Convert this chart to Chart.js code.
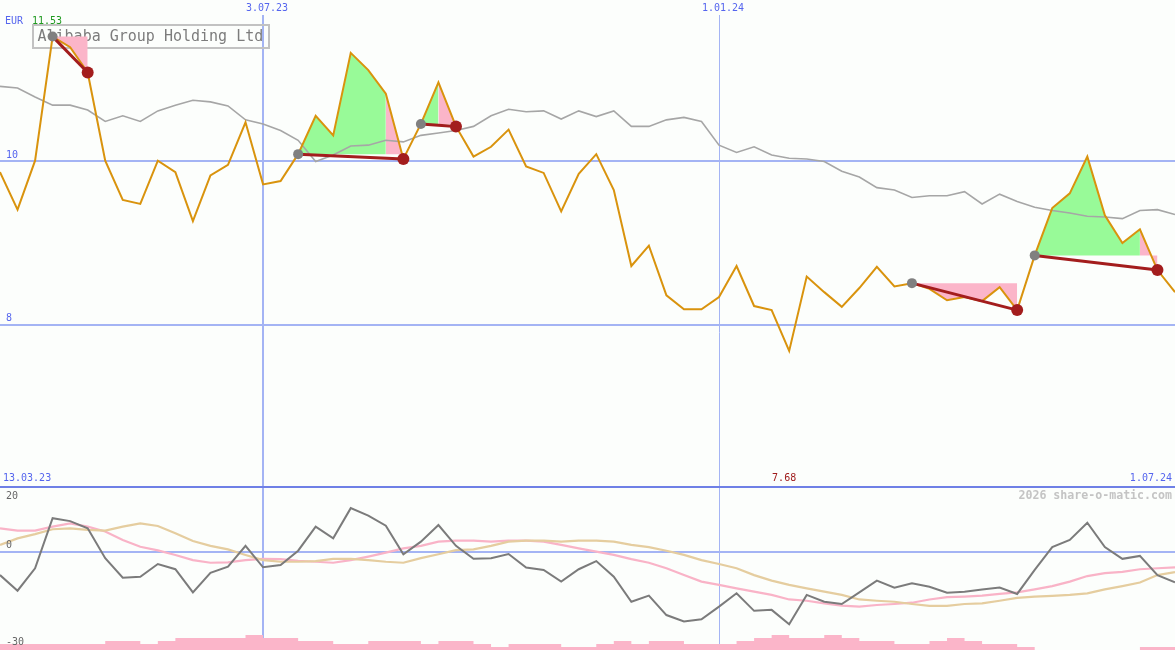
<!DOCTYPE html>
<html>
<head>
<meta charset="utf-8">
<title>Alibaba Group Holding Ltd</title>
<script src="https://cdn.jsdelivr.net/npm/chart.js@4.4.1/dist/chart.umd.min.js"></script>
<style>
  body { margin: 0; background: #fcfefc; }
  #box { position: relative; width: 1175px; height: 650px; }
</style>
</head>
<body>
<div id="box"><canvas id="chart"></canvas></div>
<script>
// weekly closes, EUR
var weeks = ['20.03.23', '27.03.23', '3.04.23', '10.04.23', '17.04.23', '24.04.23', '1.05.23', '8.05.23',
  '15.05.23', '22.05.23', '29.05.23', '5.06.23', '12.06.23', '19.06.23', '26.06.23', '3.07.23',
  '10.07.23', '17.07.23', '24.07.23', '31.07.23', '7.08.23', '14.08.23', '21.08.23', '28.08.23',
  '4.09.23', '11.09.23', '18.09.23', '25.09.23', '2.10.23', '9.10.23', '16.10.23', '23.10.23',
  '30.10.23', '6.11.23', '13.11.23', '20.11.23', '27.11.23', '4.12.23', '11.12.23', '18.12.23',
  '25.12.23', '1.01.24', '8.01.24', '15.01.24', '22.01.24', '29.01.24', '5.02.24', '12.02.24',
  '19.02.24', '26.02.24', '4.03.24', '11.03.24', '18.03.24', '25.03.24', '1.04.24', '8.04.24',
  '15.04.24', '22.04.24', '29.04.24', '6.05.24', '13.05.24', '20.05.24', '27.05.24', '3.06.24',
  '10.06.24', '17.06.24', '24.06.24', '1.07.24'];

var prices = [9.87, 9.41, 10.01, 11.53, 11.40, 11.09, 10.01, 9.53, 9.48, 10.01,
  9.87, 9.27, 9.83, 9.96, 10.48, 9.72, 9.76, 10.09, 10.56, 10.32,
  11.33, 11.12, 10.83, 10.03, 10.46, 10.97, 10.43, 10.06, 10.18, 10.39,
  9.94, 9.86, 9.39, 9.85, 10.09, 9.65, 8.72, 8.97, 8.36, 8.19,
  8.19, 8.34, 8.72, 8.23, 8.18, 7.68, 8.59, 8.40, 8.22, 8.45,
  8.71, 8.47, 8.51, 8.44, 8.30, 8.34, 8.29, 8.46, 8.18, 8.85,
  9.43, 9.61, 10.06, 9.34, 9.00, 9.17, 8.67, 8.40];

var average = [10.92, 10.90, 10.79, 10.69, 10.69, 10.63, 10.49, 10.56, 10.49, 10.62,
  10.69, 10.75, 10.73, 10.68, 10.51, 10.46, 10.38, 10.26, 10.00, 10.08,
  10.19, 10.20, 10.26, 10.24, 10.32, 10.35, 10.38, 10.43, 10.56, 10.64,
  10.61, 10.62, 10.52, 10.62, 10.55, 10.62, 10.43, 10.43, 10.51, 10.54,
  10.49, 10.20, 10.11, 10.18, 10.08, 10.04, 10.03, 10.00, 9.88, 9.81,
  9.68, 9.65, 9.56, 9.58, 9.58, 9.63, 9.48, 9.60, 9.51, 9.44,
  9.40, 9.37, 9.33, 9.32, 9.30, 9.40, 9.41, 9.35];

// lower panel
var momentum = [-7.2, -12.0, -5.1, 10.3, 9.4, 7.2, -2.0, -8.0, -7.7, -3.8,
  -5.4, -12.5, -6.5, -4.6, 1.8, -4.8, -4.1, 0.3, 7.7, 4.1,
  13.4, 11.1, 8.0, -0.8, 3.1, 8.2, 1.8, -2.2, -2.0, -0.7,
  -4.9, -5.6, -9.2, -5.4, -2.9, -7.7, -15.4, -13.5, -19.5, -21.5,
  -20.8, -16.9, -12.8, -18.2, -17.9, -22.3, -13.3, -15.4, -16.1, -12.5,
  -8.9, -11.1, -9.7, -10.8, -12.6, -12.3, -11.6, -11.0, -13.0, -5.6,
  1.4, 3.6, 8.9, 1.4, -2.2, -1.3, -7.2, -9.4];

var signalFast = [7.2, 6.5, 6.5, 7.7, 8.7, 7.7, 6.2, 3.6, 1.5, 0.4,
  -1.0, -2.6, -3.4, -3.3, -2.6, -2.2, -2.3, -2.8, -3.1, -3.4,
  -2.6, -1.5, -0.3, 1.0, 1.8, 3.1, 3.4, 3.4, 3.1, 3.4,
  3.4, 3.1, 2.1, 1.0, 0.0, -1.0, -2.3, -3.4, -5.1, -7.2,
  -9.2, -10.2, -11.3, -12.3, -13.3, -14.7, -15.1, -15.9, -16.6, -16.9,
  -16.4, -16.1, -15.7, -14.7, -14.0, -13.8, -13.5, -13.0, -12.5, -11.6,
  -10.6, -9.2, -7.5, -6.6, -6.2, -5.4, -5.1, -4.8];

var signalSlow = [2.1, 4.1, 5.4, 6.9, 7.2, 6.7, 6.5, 7.7, 8.7, 7.9,
  5.7, 3.3, 1.8, 0.7, -1.0, -2.6, -3.1, -3.1, -2.9, -2.2,
  -2.2, -2.6, -3.1, -3.4, -2.0, -0.8, 0.5, 0.7, 1.8, 3.1,
  3.4, 3.4, 3.1, 3.4, 3.4, 3.1, 2.1, 1.4, 0.3, -1.0,
  -2.6, -3.8, -5.1, -7.2, -8.9, -10.2, -11.3, -12.3, -13.3, -14.7,
  -15.1, -15.4, -16.1, -16.7, -16.7, -16.1, -15.9, -15.1, -14.2, -13.8,
  -13.6, -13.3, -12.8, -11.6, -10.6, -9.5, -7.2, -6.3];

// relative weekly volume
var volume = [2, 2, 2, 2, 2, 2, 3, 3, 2, 3,
  4, 4, 4, 4, 5, 4, 4, 3, 3, 2,
  2, 3, 3, 3, 2, 3, 3, 2, 1, 2,
  2, 2, 1, 1, 2, 3, 2, 3, 3, 2,
  2, 2, 3, 4, 5, 4, 4, 5, 4, 3,
  3, 2, 2, 3, 4, 3, 2, 2, 1, 0,
  0, 0, 0, 0, 0, 1, 1, 1];

// trades: week index of entry, last rising week, exit
var tradeIn = [3, 17, 24, 52, 59];
var tradeGreenTo = [3, 22, 25, 52, 65];
var tradeOut = [5, 23, 26, 58, 66];

var priceLines = [10, 8];
var lowerLines = [0];
var markDates = ['3.07.23', '1.01.24'];
var markWidths = [2, 1];

function piece(from, to) {
  var d = [];
  for (var i = 0; i < prices.length; i++) {
    d.push(i >= from && i <= to ? prices[i] : null);
  }
  return d;
}

var datasets = [];

datasets.push({ data: prices, yAxisID: 'y', borderColor: '#d9930d', borderWidth: 2, pointRadius: 0, order: 1 });
datasets.push({ data: average, yAxisID: 'y', borderColor: '#a6a6a6', borderWidth: 1.6, pointRadius: 0, order: 2 });

for (var t = 0; t < tradeIn.length; t++) {
  var a = tradeIn[t];
  var g = tradeGreenTo[t];
  var b = tradeOut[t];
  var level = prices[a];

  if (g > a) {
    datasets.push({ data: piece(a, g), yAxisID: 'y', fill: { value: level }, backgroundColor: '#98fa98',
      borderWidth: 0, pointRadius: 0, order: 5 });
  }
  if (b > g) {
    datasets.push({ data: piece(g, b), yAxisID: 'y', fill: { value: level }, backgroundColor: '#fbb5c9',
      borderWidth: 0, pointRadius: 0, order: 5 });
  }

  var tline = [];
  var radius = [];
  var colors = [];
  for (var i = 0; i < prices.length; i++) {
    tline.push(i === a || i === b ? prices[i] : null);
    radius.push(i === a ? 5 : (i === b ? 6 : 0));
    colors.push(i === a ? '#808080' : '#a31d1d');
  }
  datasets.push({ data: tline, yAxisID: 'y', spanGaps: true, borderColor: '#a31d1d', borderWidth: 3,
    pointRadius: radius, pointBackgroundColor: colors, pointBorderWidth: 0, order: 0 });
}

datasets.push({ data: momentum, yAxisID: 'yb', borderColor: '#7b7b7b', borderWidth: 2, pointRadius: 0, order: 1 });
datasets.push({ data: signalSlow, yAxisID: 'yb', borderColor: '#e5cd9f', borderWidth: 2.2, pointRadius: 0, order: 2 });
datasets.push({ data: signalFast, yAxisID: 'yb', borderColor: '#f9b3c7', borderWidth: 2.2, pointRadius: 0, order: 3 });
datasets.push({ data: volume, yAxisID: 'yv', stepped: 'before', fill: 'origin', backgroundColor: '#fbb5c9',
  borderWidth: 0, pointRadius: 0, order: 8 });

function hline(ctx, x1, x2, y) {
  ctx.beginPath();
  ctx.moveTo(x1, y);
  ctx.lineTo(x2, y);
  ctx.stroke();
}

function vline(ctx, x, y1, y2) {
  ctx.beginPath();
  ctx.moveTo(x, y1);
  ctx.lineTo(x, y2);
  ctx.stroke();
}

function text(ctx, s, x, y, color, align, font) {
  ctx.fillStyle = color;
  ctx.textAlign = align;
  ctx.font = font || '10px "DejaVu Sans Mono"';
  ctx.fillText(s, x, y);
}

var grid = {
  id: 'grid',
  beforeDatasetsDraw: function (chart) {
    var ctx = chart.ctx;
    var area = chart.chartArea;
    var sx = chart.scales.x;
    var sy = chart.scales.y;
    var sb = chart.scales.yb;
    ctx.save();

    ctx.strokeStyle = '#a4b4f4';
    ctx.lineWidth = 2;
    for (var i = 0; i < priceLines.length; i++) {
      hline(ctx, area.left, area.right, Math.round(sy.getPixelForValue(priceLines[i])));
    }
    for (var i = 0; i < lowerLines.length; i++) {
      hline(ctx, area.left, area.right, Math.round(sb.getPixelForValue(lowerLines[i])));
    }
    for (var i = 0; i < markDates.length; i++) {
      var x = Math.round(sx.getPixelForValue(weeks.indexOf(markDates[i])));
      ctx.lineWidth = markWidths[i];
      vline(ctx, markWidths[i] % 2 ? x + 0.5 : x, 15, area.bottom);
    }

    // separator of the two panels
    ctx.strokeStyle = '#6f80e6';
    ctx.lineWidth = 2;
    hline(ctx, area.left, area.right, Math.round(sb.getPixelForValue(20)));

    // title box
    ctx.strokeStyle = '#c2c2c2';
    ctx.lineWidth = 2;
    ctx.strokeRect(33, 25, 236, 23);
    ctx.textBaseline = 'middle';
    text(ctx, 'Alibaba Group Holding Ltd', 37.5, 37, '#7c7c7c', 'left', '15px "DejaVu Sans Mono"');
    ctx.restore();
  },
  afterDatasetsDraw: function (chart) {
    var ctx = chart.ctx;
    var sx = chart.scales.x;
    var sy = chart.scales.y;
    var sb = chart.scales.yb;
    var blue = '#5565ee';
    var hi = Math.max.apply(null, prices);
    var lo = Math.min.apply(null, prices);
    ctx.save();
    ctx.textBaseline = 'middle';

    text(ctx, 'EUR', 5, 21, blue, 'left');
    text(ctx, hi.toFixed(2), 32, 21, '#1f9a1f', 'left');
    for (var i = 0; i < markDates.length; i++) {
      text(ctx, markDates[i], sx.getPixelForValue(weeks.indexOf(markDates[i])) + 4, 8, blue, 'center');
    }
    for (var i = 0; i < priceLines.length; i++) {
      text(ctx, String(priceLines[i]), 6, sy.getPixelForValue(priceLines[i]) - 6, blue, 'left');
    }

    var yBase = sb.getPixelForValue(20);
    text(ctx, '13.03.23', 3, yBase - 8, blue, 'left');
    text(ctx, lo.toFixed(2), sx.getPixelForValue(prices.indexOf(lo)) + 7, yBase - 8, '#a01c1c', 'right');
    text(ctx, weeks[weeks.length - 1], 1172, yBase - 8, blue, 'right');
    text(ctx, '2026 share-o-matic.com', 1172, yBase + 9, '#c4c4c4', 'right', 'bold 11.6px "DejaVu Sans Mono"');

    text(ctx, '20', 6, yBase + 10, '#666666', 'left');
    text(ctx, '0', 6, sb.getPixelForValue(0) - 6, '#666666', 'left');
    text(ctx, '-30', 6, sb.getPixelForValue(-30) - 7, '#666666', 'left');
    ctx.restore();
  }
};

var chart = new Chart(document.getElementById('chart'), {
  type: 'line',
  data: { labels: weeks, datasets: datasets },
  options: {
    responsive: true,
    maintainAspectRatio: false,
    animation: false,
    events: [],
    layout: { padding: 0 },
    plugins: { legend: { display: false }, tooltip: { enabled: false } },
    elements: { line: { tension: 0 } },
    scales: {
      x: { display: false, offset: false },
      y: { display: false, min: 4.017, max: 11.978 },
      yb: { display: false, min: -30.25, max: 169.75 },
      yv: { display: false, min: 0, max: 216.7 }
    }
  },
  plugins: [grid]
});
</script>
</body>
</html>
